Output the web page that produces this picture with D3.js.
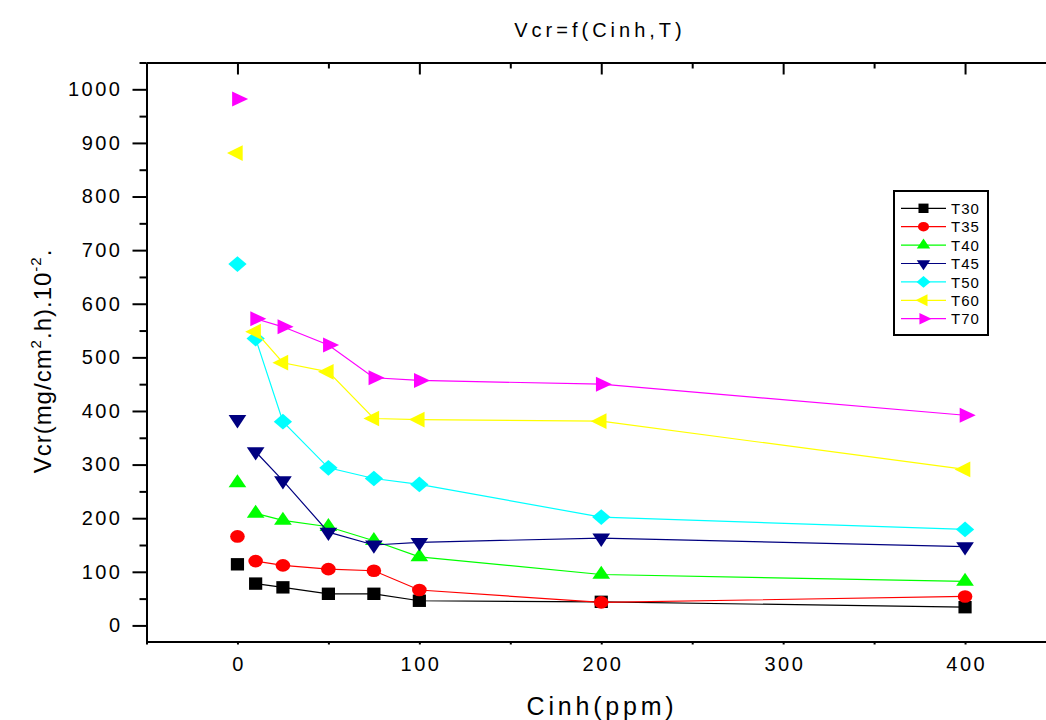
<!DOCTYPE html>
<html>
<head>
<meta charset="utf-8">
<script src="https://cdn.jsdelivr.net/npm/d3@7"></script>
<style>
  body { margin: 0; background: #fff; }
  text { font-family: "Liberation Sans", Arial, sans-serif; }
</style>
</head>
<body>
<svg id="viz"></svg>
<script>
var width = 1046;
var height = 720;

// concentration of inhibitor (ppm)
var xValues = [0, 10, 25, 50, 75, 100, 200, 400];

var seriesNames = ["T30", "T35", "T40", "T45", "T50", "T60", "T70"];
var seriesColors = ["#000000", "#ff0000", "#00ff00", "#000080", "#00ffff", "#ffff00", "#ff00ff"];
var seriesShapes = ["square", "circle", "up", "down", "diamond", "left", "right"];

var T30 = [114, 78, 71, 59, 59, 46, 44, 34];
var T35 = [166, 120, 112, 105, 102, 66, 43, 54];
var T40 = [266, 209, 196, 184, 158, 128, 95, 82];
var T45 = [384, 324, 270, 174, 150, 155, 163, 147];
var T50 = [674, 535, 380, 294, 274, 263, 202, 179];
var T60 = [881, 548, 490, 473, 386, 384, 381, 291];
var T70 = [982, 572, 557, 523, 462, 457, 450, 392];
var seriesValues = [T30, T35, T40, T45, T50, T60, T70];

var xMajorTicks = [0, 100, 200, 300, 400];
var xMinorTicks = [-50, 50, 150, 250, 350, 450];
var yMajorTicks = [0, 100, 200, 300, 400, 500, 600, 700, 800, 900, 1000];
var yMinorTicks = [50, 150, 250, 350, 450, 550, 650, 750, 850, 950, 1050];

var plotLeft = 146.5, plotRight = 1056, plotTop = 62.5, plotBottom = 641.5;

var x = d3.scaleLinear().domain([-50, 450]).range([plotLeft, plotRight]);
var y = d3.scaleLinear().domain([-30, 1050]).range([plotBottom, plotTop]);

var svg = d3.select("#viz").attr("width", width).attr("height", height);

// marker outlines, centred on the data point (triangles on their centroid)
function shapePath(shape, k) {
    var w, h;
    if (shape == "square") {
        w = 13.2 * k; h = 12.4 * k;
        return "M" + (-w/2) + "," + (-h/2) + "h" + w + "v" + h + "h" + (-w) + "Z";
    }
    if (shape == "circle") {
        var rx = 7.3 * k, ry = 6.3 * k;
        return "M" + rx + ",0A" + rx + "," + ry + " 0 1 1 " + (-rx) + ",0A" + rx + "," + ry + " 0 1 1 " + rx + ",0Z";
    }
    if (shape == "up") {
        w = 17.7 * k; h = 13 * k;
        return "M0," + (-2*h/3) + "L" + (w/2) + "," + (h/3) + "L" + (-w/2) + "," + (h/3) + "Z";
    }
    if (shape == "down") {
        w = 17.7 * k; h = 13.3 * k;
        return "M0," + (2*h/3) + "L" + (w/2) + "," + (-h/3) + "L" + (-w/2) + "," + (-h/3) + "Z";
    }
    if (shape == "diamond") {
        w = 18.3 * k; h = 15.7 * k;
        return "M0," + (-h/2) + "L" + (w/2) + ",0L0," + (h/2) + "L" + (-w/2) + ",0Z";
    }
    if (shape == "left") {
        w = 15.7 * k; h = 15.7 * k;
        return "M" + (-2*w/3) + ",0L" + (w/3) + "," + (-h/2) + "L" + (w/3) + "," + (h/2) + "Z";
    }
    if (shape == "right") {
        w = 16 * k; h = 15 * k;
        return "M" + (2*w/3) + ",0L" + (-w/3) + "," + (-h/2) + "L" + (-w/3) + "," + (h/2) + "Z";
    }
}

// ---- axes ----
var axisGroup = svg.append("g").attr("class", "axes");

var yAxis = axisGroup.append("g")
    .attr("transform", "translate(" + plotLeft + ",0)")
    .call(d3.axisLeft(y).tickValues(yMajorTicks).tickFormat(d3.format("d")).tickSize(14).tickPadding(10).tickSizeOuter(0));
var yMinor = axisGroup.append("g")
    .attr("transform", "translate(" + plotLeft + ",0)")
    .call(d3.axisLeft(y).tickValues(yMinorTicks).tickSize(7).tickFormat("").tickSizeOuter(0));

var xAxis = axisGroup.append("g")
    .attr("transform", "translate(0," + plotBottom + ")")
    .call(d3.axisBottom(x).tickValues(xMajorTicks).tickFormat(d3.format("d")).tickSize(3).tickPadding(12).tickSizeOuter(0));
var xMinor = axisGroup.append("g")
    .attr("transform", "translate(0," + plotBottom + ")")
    .call(d3.axisBottom(x).tickValues(xMinorTicks).tickSize(3).tickFormat("").tickSizeOuter(0));

var topMajor = axisGroup.append("g")
    .attr("transform", "translate(0," + plotTop + ")")
    .call(d3.axisTop(x).tickValues(xMajorTicks).tickSize(-12).tickFormat("").tickSizeOuter(0));
var topMinor = axisGroup.append("g")
    .attr("transform", "translate(0," + plotTop + ")")
    .call(d3.axisTop(x).tickValues(xMinorTicks).tickSize(-6).tickFormat("").tickSizeOuter(0));

axisGroup.selectAll("path.domain").attr("stroke", "#000").attr("stroke-width", 2);
axisGroup.selectAll(".tick line").attr("stroke", "#000").attr("stroke-width", 2);
axisGroup.selectAll(".tick text")
    .attr("fill", "#000")
    .style("font-size", "20px")
    .style("letter-spacing", "2.5px")
    .style("font-family", "'Liberation Sans', Arial, sans-serif");
xAxis.selectAll(".tick text").attr("dx", 1.2);

// ---- series ----
var line = d3.line()
    .x(function(d) { return x(d.x); })
    .y(function(d) { return y(d.v); });

var seriesData = seriesNames.map(function(name, i) {
    return {
        name: name,
        color: seriesColors[i],
        shape: seriesShapes[i],
        points: xValues.map(function(xv, j) { return {x: xv, v: seriesValues[i][j]}; })
    };
});

var plot = svg.append("g").attr("class", "series");

var series = plot.selectAll("g")
    .data(seriesData)
    .enter()
    .append("g");

// the blank (0 ppm) point is not joined to the curve
series.append("path")
    .attr("fill", "none")
    .attr("stroke", function(d) { return d.color; })
    .attr("stroke-width", 1.2)
    .attr("d", function(d) { return line(d.points.slice(1)); });

series.selectAll("path.marker")
    .data(function(d) { return d.points.map(function(p) { return {p: p, s: d}; }); })
    .enter()
    .append("path")
    .attr("class", "marker")
    .attr("fill", function(d) { return d.s.color; })
    .attr("transform", function(d) { return "translate(" + x(d.p.x) + "," + y(d.p.v) + ")"; })
    .attr("d", function(d) { return shapePath(d.s.shape, 1); });

// ---- titles ----
svg.append("text")
    .attr("x", 600)
    .attr("y", 37)
    .attr("text-anchor", "middle")
    .style("font-size", "20px")
    .style("letter-spacing", "4px")
    .text("Vcr=f(Cinh,T)");

svg.append("text")
    .attr("x", 602)
    .attr("y", 715)
    .attr("text-anchor", "middle")
    .style("font-size", "25px")
    .style("letter-spacing", "3.8px")
    .text("Cinh(ppm)");

var yLabel = svg.append("text")
    .attr("transform", "translate(51,361) rotate(-90)")
    .attr("text-anchor", "middle")
    .style("font-size", "24px")
    .style("letter-spacing", "1px");
yLabel.append("tspan").text("Vcr(mg/cm");
yLabel.append("tspan").attr("dy", -10).style("font-size", "15px").text("2");
yLabel.append("tspan").attr("dy", 10).text(".h).10");
yLabel.append("tspan").attr("dy", -10).style("font-size", "15px").text("-2");
yLabel.append("tspan").attr("dy", 10).text(".");

// ---- legend ----
var legend = svg.append("g").attr("class", "legend");

legend.append("rect")
    .attr("x", 894)
    .attr("y", 191)
    .attr("width", 94)
    .attr("height", 144)
    .attr("fill", "#fff")
    .attr("stroke", "#000")
    .attr("stroke-width", 2);

var legendRow = legend.selectAll("g.row")
    .data(seriesData)
    .enter()
    .append("g")
    .attr("class", "row")
    .attr("transform", function(d, i) { return "translate(0," + (208.3 + i * 18.4) + ")"; });

legendRow.append("line")
    .attr("x1", 901)
    .attr("x2", 946)
    .attr("y1", 0)
    .attr("y2", 0)
    .attr("stroke", function(d) { return d.color; })
    .attr("stroke-width", 1.2);

legendRow.append("path")
    .attr("fill", function(d) { return d.color; })
    .attr("transform", "translate(923.5,0)")
    .attr("d", function(d) { return shapePath(d.shape, 0.76); });

legendRow.append("text")
    .attr("x", 951)
    .attr("y", 5.6)
    .style("font-size", "15px")
    .style("letter-spacing", "1px")
    .text(function(d) { return d.name; });
</script>
</body>
</html>
